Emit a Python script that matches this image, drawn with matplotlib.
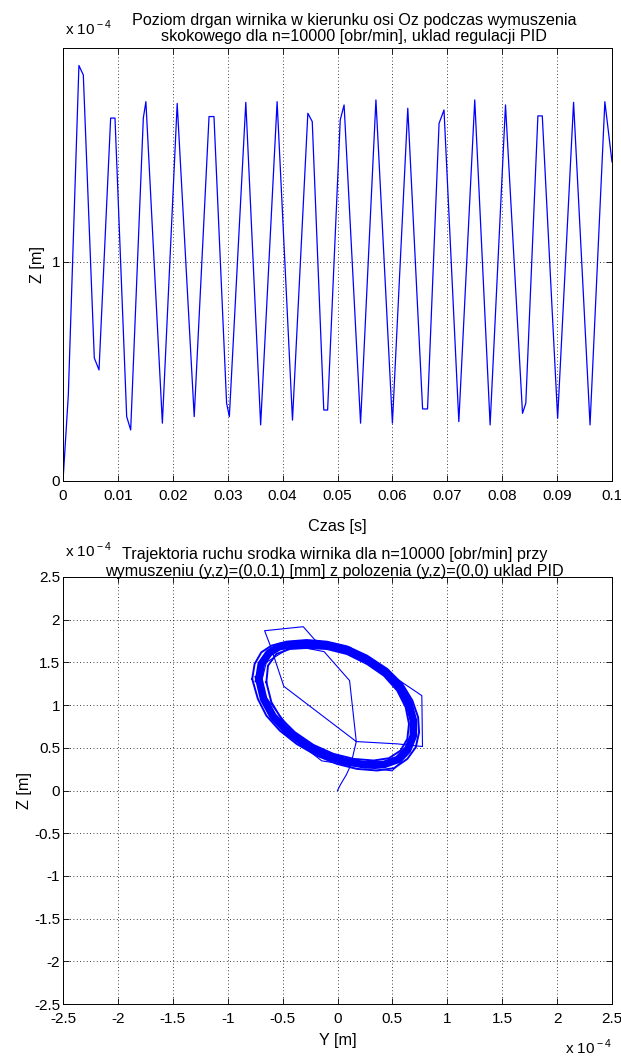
import matplotlib.pyplot as plt

plt.rcParams["font.family"] = ["Liberation Sans", "DejaVu Sans"]
plt.rcParams["font.size"] = 11
plt.rcParams["axes.unicode_minus"] = False
plt.rcParams["mathtext.fontset"] = "custom"
plt.rcParams["mathtext.rm"] = "Liberation Sans"

# Z(t) drgania wirnika, wartosci w jednostkach 1e-4 m
czas = [0.0, 0.00097, 0.0029, 0.0037, 0.0057, 0.00656, 0.00868, 0.00947,
        0.0116, 0.01233, 0.01463, 0.0151, 0.0181, 0.0208, 0.0239, 0.0266,
        0.0275, 0.0298, 0.0303, 0.0333, 0.0360, 0.0390, 0.0418, 0.0446,
        0.0454, 0.0475, 0.0482, 0.0505, 0.0512, 0.0542, 0.0570, 0.0600,
        0.0628, 0.0655, 0.0664, 0.0685, 0.0694, 0.0721, 0.0750, 0.0778,
        0.0806, 0.0837, 0.0843, 0.0865, 0.0873, 0.0901, 0.0930, 0.0960,
        0.0987, 0.1000]
z_drgania = [0.0, 0.393, 1.897, 1.854, 0.562, 0.507, 1.657, 1.657,
             0.294, 0.233, 1.657, 1.732, 0.264, 1.724, 0.294, 1.664,
             1.664, 0.355, 0.294, 1.729, 0.256, 1.732, 0.278, 1.679,
             1.641, 0.324, 0.324, 1.649, 1.717, 0.264, 1.740, 0.264,
             1.702, 0.329, 0.329, 1.633, 1.694, 0.271, 1.740, 0.256,
             1.717, 0.309, 0.355, 1.667, 1.667, 0.286, 1.729, 0.256,
             1.732, 1.457]

# trajektoria srodka wirnika (y, z), jednostki 1e-4 m
# poczatek ruchu z polozenia (0,0)
start_y = [0.0, 0.031, 0.080, 0.116, 0.141, 0.171, 0.544, 0.774, 0.768,
           0.116, -0.205, -0.312, -0.664, -0.612, -0.489, 0.171, 0.110,
           -0.122, -0.404, -0.648, -0.709, -0.312, -0.144, 0.177, 0.498,
           0.661, 0.691]
start_z = [0.0, 0.078, 0.183, 0.285, 0.409, 0.573, 0.546, 0.515, 1.111,
           1.676, 1.762, 1.918, 1.871, 1.696, 1.220, 0.573, 1.287,
           1.626, 1.696, 1.501, 1.189, 0.519, 0.347, 0.285, 0.230,
           0.448, 0.819]

# ustalony cykl - krawedz zewnetrzna pasa
zew_y = [-0.777, -0.755, -0.694, -0.602, -0.465, -0.281, -0.098, 0.086,
         0.269, 0.453, 0.590, 0.682, 0.734, 0.743, 0.713, 0.636, 0.514,
         0.361, 0.177, -0.006, -0.190, -0.373, -0.526, -0.648, -0.725,
         -0.777]
zew_z = [1.306, 1.481, 1.618, 1.696, 1.743, 1.762, 1.743, 1.688,
         1.579, 1.423, 1.248, 1.053, 0.858, 0.682, 0.507, 0.370, 0.261,
         0.234, 0.253, 0.312, 0.409, 0.546, 0.702, 0.877, 1.072,
         1.306]

# srodek pasa
sr_y = [-0.716, -0.694, -0.624, -0.532, -0.404, -0.266, -0.098, 0.086,
        0.269, 0.437, 0.569, 0.651, 0.691, 0.691, 0.642, 0.550, 0.422,
        0.254, 0.070, -0.113, -0.297, -0.459, -0.587, -0.673, -0.716]
sr_z = [1.306, 1.481, 1.610, 1.684, 1.708, 1.715, 1.700, 1.645,
        1.532, 1.384, 1.209, 1.014, 0.819, 0.643, 0.487, 0.363, 0.304,
        0.300, 0.339, 0.417, 0.542, 0.694, 0.869, 1.072, 1.306]

# krawedz wewnetrzna pasa
wew_y = [-0.648, -0.633, -0.557, -0.434, -0.281, -0.098, 0.086, 0.269,
         0.422, 0.544, 0.621, 0.651, 0.636, 0.575, 0.468, 0.330, 0.147,
         -0.037, -0.220, -0.388, -0.511, -0.602, -0.648]
wew_z = [1.267, 1.462, 1.598, 1.657, 1.669, 1.657, 1.598, 1.481,
         1.345, 1.170, 0.975, 0.780, 0.604, 0.468, 0.378, 0.351, 0.370,
         0.429, 0.534, 0.682, 0.838, 1.033, 1.267]

top_xticks = [0, 0.01, 0.02, 0.03, 0.04, 0.05, 0.06, 0.07, 0.08, 0.09, 0.1]
top_xlabels = ["0", "0.01", "0.02", "0.03", "0.04", "0.05", "0.06", "0.07",
               "0.08", "0.09", "0.1"]
top_yticks = [0, 1]
traj_ticks = [-2.5, -2, -1.5, -1, -0.5, 0, 0.5, 1, 1.5, 2, 2.5]
traj_labels = ["-2.5", "-2", "-1.5", "-1", "-0.5", "0", "0.5", "1", "1.5",
               "2", "2.5"]

W, H = 621, 1056
BLUE = (0.0, 0.0, 1.0)


def matlab_axes(ax):
    ax.tick_params(direction="in", length=4, width=0.6, top=True, right=True,
                   labelsize=11)
    ax.tick_params(axis="x", pad=5.5)
    ax.tick_params(axis="y", pad=2)
    ax.grid(True, color="black", linestyle=(0, (1, 3)), linewidth=0.6)
    for s in ax.spines.values():
        s.set_linewidth(0.7)


def exponent(x, y, ha="left"):
    fig.text(x / W, 1 - y / H, r"x 10$^{\rm -4}$", fontsize=11, ha=ha,
             va="baseline")


fig = plt.figure(figsize=(W / 100, H / 100), dpi=100)

# gorny wykres: Z(t)
ax1 = fig.add_axes([63 / W, (H - 481) / H, 549 / W, 433 / H])
ax1.plot(czas, z_drgania, color=BLUE, linewidth=0.9)
ax1.set_xlim(0, 0.1)
ax1.set_ylim(0, 1.977)
ax1.set_xticks(top_xticks)
ax1.set_xticklabels(top_xlabels)
ax1.set_yticks(top_yticks)
ax1.set_yticklabels(["0", "1"])
matlab_axes(ax1)
ax1.set_xlabel("Czas [s]", fontsize=11.7)
ax1.set_ylabel("Z [m]", fontsize=11.7)
ax1.xaxis.set_label_coords(0.5, -38 / 433)
ax1.yaxis.set_label_coords(-18 / 549, 0.5)
ax1.set_title("Poziom drgan wirnika w kierunku osi Oz podczas wymuszenia\n"
              "skokowego dla n=10000 [obr/min], uklad regulacji PID",
              fontsize=11.6, pad=5, linespacing=1.1, x=0.530)
exponent(65, 35)

# dolny wykres: trajektoria (y, z)
ax2 = fig.add_axes([63 / W, (H - 1004) / H, 549 / W, 427 / H])
ax2.plot(zew_y, zew_z, color=BLUE, linewidth=1.4)
ax2.plot(wew_y, wew_z, color=BLUE, linewidth=1.4)
ax2.plot(sr_y, sr_z, color=BLUE, linewidth=5.5)
ax2.plot(start_y, start_z, color=BLUE, linewidth=0.8)
ax2.set_xlim(-2.5, 2.5)
ax2.set_ylim(-2.5, 2.5)
ax2.set_xticks(traj_ticks)
ax2.set_xticklabels(traj_labels)
ax2.set_yticks(traj_ticks)
ax2.set_yticklabels(traj_labels)
matlab_axes(ax2)
ax2.set_xlabel("Y [m]", fontsize=11.7)
ax2.set_ylabel("Z [m]", fontsize=11.7)
ax2.xaxis.set_label_coords(0.5, -29 / 427)
ax2.yaxis.set_label_coords(-31 / 549, 0.5)
ax2.set_title("Trajektoria ruchu srodka wirnika dla n=10000 [obr/min] przy\n"
              "wymuszeniu (y,z)=(0,0.1) [mm] z polozenia (y,z)=(0,0) uklad PID",
              fontsize=11.6, pad=1, linespacing=1.15, x=0.495)
exponent(65, 557)
exponent(612, 1054, ha="right")

fig.savefig("out.png", dpi=100)
